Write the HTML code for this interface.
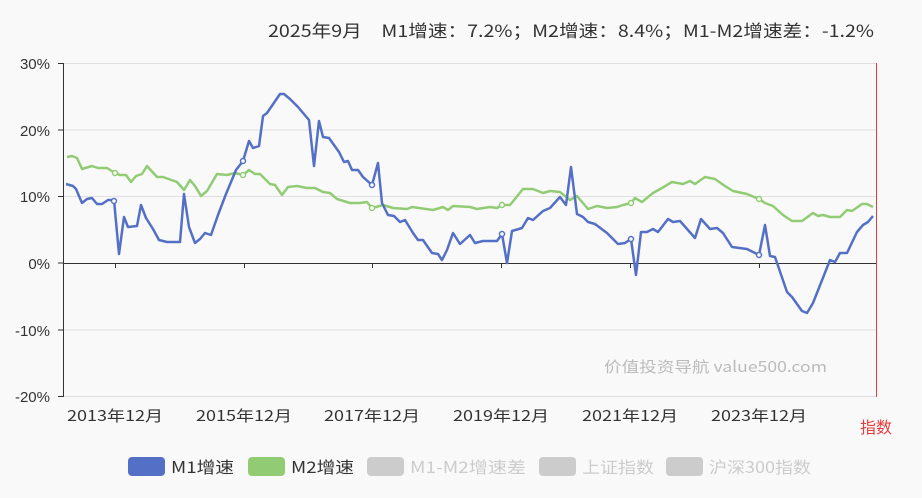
<!DOCTYPE html><html><head><meta charset="utf-8"><style>
body{margin:0;background:#f9f9f9;width:922px;height:493px;overflow:hidden;font-family:"Liberation Sans","Noto Sans CJK SC",sans-serif}
</style></head><body>
<svg width="922" height="493" xmlns="http://www.w3.org/2000/svg" font-family="Liberation Sans, Noto Sans CJK SC, sans-serif">
<rect width="922" height="493" fill="#f9f9f9"/>
<text x="268" y="37" font-size="17" fill="#333" font-family="Noto Sans CJK SC, sans-serif" textLength="606" lengthAdjust="spacingAndGlyphs">2025年9月　M1增速：7.2%；M2增速：8.4%；M1-M2增速差：-1.2%</text>
<g stroke="#e0e0e0" stroke-width="1">
<line x1="63" y1="63.5" x2="876" y2="63.5"/><line x1="63" y1="130" x2="876" y2="130"/><line x1="63" y1="196.5" x2="876" y2="196.5"/><line x1="63" y1="330" x2="876" y2="330"/><line x1="63" y1="396.5" x2="876" y2="396.5"/>
</g>
<line x1="63.5" y1="63" x2="63.5" y2="397" stroke="#333"/>
<g stroke="#333"><line x1="58" y1="63.5" x2="63" y2="63.5"/><line x1="58" y1="130" x2="63" y2="130"/><line x1="58" y1="196.5" x2="63" y2="196.5"/><line x1="58" y1="263" x2="63" y2="263"/><line x1="58" y1="330" x2="63" y2="330"/><line x1="58" y1="396.5" x2="63" y2="396.5"/></g>
<line x1="63" y1="263.5" x2="876" y2="263.5" stroke="#333"/>
<g stroke="#333"><line x1="115.5" y1="263" x2="115.5" y2="268"/><line x1="244.5" y1="263" x2="244.5" y2="268"/><line x1="372.5" y1="263" x2="372.5" y2="268"/><line x1="501.5" y1="263" x2="501.5" y2="268"/><line x1="630.5" y1="263" x2="630.5" y2="268"/><line x1="759.5" y1="263" x2="759.5" y2="268"/></g>
<line x1="876.5" y1="63" x2="876.5" y2="397" stroke="#e43c3c"/>
<g font-size="15" fill="#333" text-anchor="end"><text x="50" y="69">30%</text><text x="50" y="136">20%</text><text x="50" y="202">10%</text><text x="50" y="269">0%</text><text x="50" y="336">-10%</text><text x="50" y="402">-20%</text></g>
<g font-size="15" fill="#333" font-family="Noto Sans CJK SC, sans-serif"><text x="67" y="421" textLength="96" lengthAdjust="spacingAndGlyphs">2013年12月</text><text x="196" y="421" textLength="96" lengthAdjust="spacingAndGlyphs">2015年12月</text><text x="324" y="421" textLength="96" lengthAdjust="spacingAndGlyphs">2017年12月</text><text x="453" y="421" textLength="96" lengthAdjust="spacingAndGlyphs">2019年12月</text><text x="582" y="421" textLength="96" lengthAdjust="spacingAndGlyphs">2021年12月</text><text x="711" y="421" textLength="96" lengthAdjust="spacingAndGlyphs">2023年12月</text></g>
<text x="876" y="433" font-size="16" fill="#e43c3c" text-anchor="middle" font-family="Noto Sans CJK SC, sans-serif">指数</text>
<text x="604" y="372" font-size="15" fill="#bbb" font-family="Noto Sans CJK SC, sans-serif" textLength="223" lengthAdjust="spacingAndGlyphs">价值投资导航 value500.com</text>
<polyline fill="none" stroke="#91cc75" stroke-width="2.5" stroke-linejoin="round" points="67,157 72,156 77,158 82,169 92,166 98,168 107,168 115,173 120,175 126,175 131,182 136,176 142,174 147,166 157,177 163,177 177,182 184,190 190,180 195,186 201,196 207,191 217,174 227,175 235,173 243,175 249,170 255,174 260,174 270,184 275,185 282,195 288,187 297,186 307,188 315,188 323,192 330,193 337,199 350,203 360,203 367,202 372,208 383,205 393,208 407,209 412,207 433,210 443,207 448,210 453,206 470,207 477,209 490,207 497,208 502,205 510,205 523,189 533,189 543,193 550,191 560,192 570,200 577,196 588,209 597,206 607,208 617,207 623,205 631,203 635,198 642,202 653,193 662,188 672,182 683,184 690,181 695,184 705,177 715,179 725,186 733,191 747,194 759,199 765,203 773,206 783,215 792,221 802,221 813,213 818,216 823,215 830,217 840,217 847,210 852,211 862,204 867,204 873,207"/>
<polyline fill="none" stroke="#5470c6" stroke-width="2.5" stroke-linejoin="round" points="66,184 73,186 76,189 82,203 87,199 92,198 97,204 102,204 108,200 114,200 119,254 124,217 128,227 137,226 141,205 146,218 153,229 159,240 167,242 180,242 184,194 189,227 195,243 200,239 205,233 211,235 218,215 226,194 236,170 243,161 249,141 253,148 259,146 263,116 267,113 280,94 284,94 290,99 298,107 309,120 314,166 319,121 323,137 329,138 339,152 344,162 348,161 352,170 358,170 363,177 372,185 378,163 382,203 388,215 394,216 400,222 405,220 413,233 418,240 423,240 432,253 438,254 442,260 447,250 453,233 460,244 470,235 475,243 483,241 497,241 502,234 507,263 512,231 522,228 528,218 533,220 543,211 550,208 560,197 566,205 571,167 577,214 583,217 588,222 595,224 607,233 618,244 625,243 631,239 636,275 641,232 647,232 653,229 658,232 668,219 673,222 680,221 695,238 701,219 710,229 717,228 723,233 732,247 747,249 759,255 765,225 770,256 775,257 787,292 792,297 802,311 807,313 813,303 830,260 835,262 840,253 847,253 857,232 863,225 868,222 873,216"/>
<g fill="#fff" stroke-width="1.5"><circle cx="114" cy="201" r="2.5" stroke="#5470c6"/><circle cx="243" cy="161" r="2.5" stroke="#5470c6"/><circle cx="372" cy="185" r="2.5" stroke="#5470c6"/><circle cx="502" cy="234" r="2.5" stroke="#5470c6"/><circle cx="631" cy="239" r="2.5" stroke="#5470c6"/><circle cx="759" cy="255" r="2.5" stroke="#5470c6"/>
<circle cx="115" cy="173" r="2.5" stroke="#91cc75"/><circle cx="243" cy="175" r="2.5" stroke="#91cc75"/><circle cx="372" cy="208" r="2.5" stroke="#91cc75"/><circle cx="502" cy="205" r="2.5" stroke="#91cc75"/><circle cx="631" cy="203" r="2.5" stroke="#91cc75"/><circle cx="759" cy="199" r="2.5" stroke="#91cc75"/></g>
<g font-size="16" font-family="Noto Sans CJK SC, sans-serif">
<rect x="128" y="457" width="37" height="19" rx="4" fill="#5470c6"/><text x="171" y="473" fill="#333" textLength="63" lengthAdjust="spacingAndGlyphs">M1增速</text>
<rect x="248" y="457" width="37" height="19" rx="4" fill="#91cc75"/><text x="291" y="473" fill="#333" textLength="63" lengthAdjust="spacingAndGlyphs">M2增速</text>
<rect x="367" y="457" width="37" height="19" rx="4" fill="#ccc"/><text x="410" y="473" fill="#ccc" textLength="116" lengthAdjust="spacingAndGlyphs">M1-M2增速差</text>
<rect x="539" y="457" width="37" height="19" rx="4" fill="#ccc"/><text x="582" y="473" fill="#ccc" textLength="72" lengthAdjust="spacingAndGlyphs">上证指数</text>
<rect x="666" y="457" width="37" height="19" rx="4" fill="#ccc"/><text x="709" y="473" fill="#ccc" textLength="102" lengthAdjust="spacingAndGlyphs">沪深300指数</text>
</g>
</svg>
</body></html>
